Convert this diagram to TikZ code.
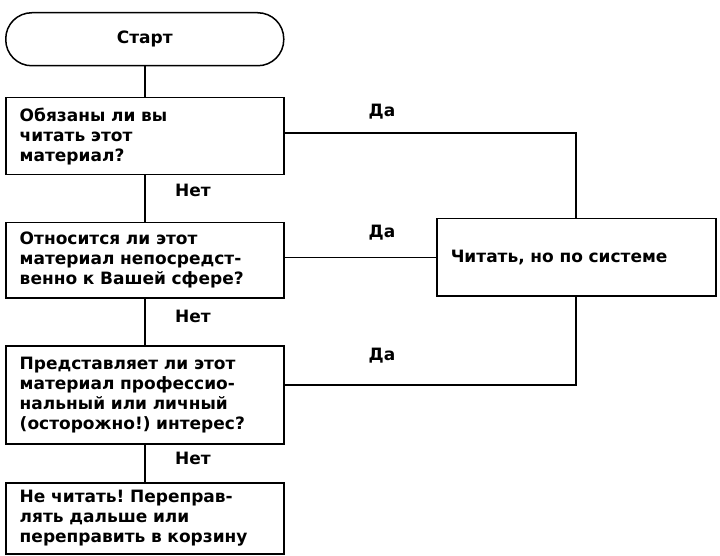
\documentclass[tikz,border=0pt]{standalone}
\usepackage{fontspec}
\setmainfont{DejaVu Sans}
\frenchspacing
\begin{document}
\begin{tikzpicture}[x=1pt,y=-1pt,line width=1.5pt,
  txt/.style={font=\fontsize{17}{20}\selectfont\bfseries\frenchspacing},
  box/.style={draw, rectangle, anchor=north west, minimum width=278pt, text width=250pt,
    inner xsep=14pt, inner ysep=0pt, align=left, txt},
  startbox/.style={draw, rectangle, rounded corners=26pt, anchor=north west,
    minimum width=278pt, minimum height=53pt, txt},
  lbl/.style={txt, inner sep=0pt}]
\useasboundingbox (0,0) rectangle (720,556);
\node[startbox] (s) at (5,12) {Старт};
\node[box, minimum height=77pt] (b1) at (5,97) {Обязаны ли вы\\читать этот\\материал?};
\node[box, minimum height=75pt] (b2) at (5,222) {Относится ли этот\\материал непосредст-\\венно к Вашей сфере?};
\node[box, minimum height=98pt] (b3) at (5,345) {Представляет ли этот\\материал профессио-\\нальный или личный\\(осторожно!) интерес?};
\node[box, minimum height=71pt] (b4) at (5,482) {Не читать! Переправ-\\лять дальше или\\переправить в корзину};
\node[draw, rectangle, anchor=north west, minimum width=279pt, minimum height=77pt,
  inner xsep=14pt, align=left, txt, text width=251pt] (r) at (436,218) {Читать, но по системе};
\coordinate (c1) at (576,133);
\coordinate (c3) at (576,385);
\draw (s.south -| 145,0) -- (b1.north -| 145,0);
\draw (b1.south -| 145,0) -- (b2.north -| 145,0);
\draw (b2.south -| 145,0) -- (b3.north -| 145,0);
\draw (b3.south -| 145,0) -- (b4.north -| 145,0);
\draw (b1.east |- c1) -- (c1) -- (r.north -| c1);
\draw (b2.east |- r.west) -- (r.west);
\draw (b3.east |- c3) -- (c3) -- (r.south -| c3);
\node[lbl] (n1) at (193,190) {Нет};
\node[lbl] (n2) at (193,316) {Нет};
\node[lbl] (n3) at (193,458) {Нет};
\node[lbl] (d1) at (382,112) {Да};
\node[lbl] (d2) at (382,233) {Да};
\node[lbl] (d3) at (382,356) {Да};
\end{tikzpicture}
\end{document}
